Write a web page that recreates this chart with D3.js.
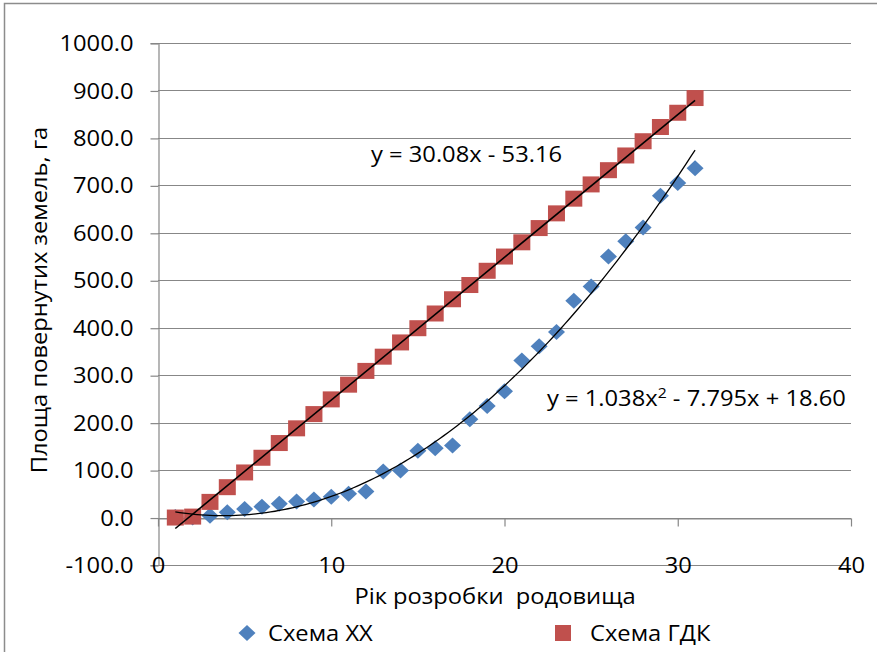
<!DOCTYPE html>
<html lang="uk">
<head>
  <meta charset='utf-8'>
  <title>Площа повернутих земель</title>
  <style>
    body { margin: 0; background: #fff; }
    svg { display: block; background-color: #fff; }
    text { font-family: 'Open Sans', sans-serif; fill: #000; white-space: pre; }
  </style>
</head>
<body>
  <div id="chart"></div>

<script src="https://cdn.jsdelivr.net/npm/d3@7"></script>
<script>

  ////////////////////////////////////////////////// DATA

  var years = [1, 2, 3, 4, 5, 6, 7, 8, 9, 10, 11, 12, 13, 14, 15, 16,
               17, 18, 19, 20, 21, 22, 23, 24, 25, 26, 27, 28, 29, 30, 31];

  // Схема ХХ (blue diamonds)
  var schemeXX = [1, 0, 4, 11, 18, 23, 29, 34, 38, 44, 50, 55, 97, 99, 141, 146,
                  152, 207, 235, 266, 331, 361, 391, 457, 487, 550, 582, 611, 678, 705, 736];

  // Схема ГДК (red squares)
  var schemeGDK = [0, 2, 33, 64, 95, 126, 157, 188, 218, 249, 280, 309, 339, 369, 399, 430,
                   460, 490, 520, 550, 580, 610, 641, 672, 702, 732, 763, 793, 823, 853, 884];

  // trendline coefficients, as printed on the chart
  var linCoef = [30.08, -53.16];          // a*x + b
  var quadCoef = [1.038, -7.795, 18.60];  // a*x^2 + b*x + c

  var xTicks = [0, 10, 20, 30, 40];
  var yTicks = [-100, 0, 100, 200, 300, 400, 500, 600, 700, 800, 900, 1000];

  var seriesNames = ["Схема ХХ", "Схема ГДК"];
  var xTitle = "Рік розробки  родовища";
  var yTitle = "Площа повернутих земель, га";

  ////////////////////////////////////////////////// INIT VARS

  var width = 877, height = 652;
  var plot = {left: 158, right: 851, top: 43, bottom: 565};

  var blue = "#4F81BD", red = "#C0504D", grid = "#878787";
  var fs = 21, sx = 1.13;   // text is a bit stretched horizontally in the reference

  ////////////////////////////////////////////////// SETUP

  var svg = d3.select("#chart").append("svg")
    .attr("width", width)
    .attr("height", height);

  // outer frame (right / bottom edges are cut off in the reference)
  svg.append("rect")
    .attr("x", 4.5).attr("y", 3.5)
    .attr("width", width + 20).attr("height", height + 20)
    .attr("fill", "none").attr("stroke", "#8c8c8c").attr("stroke-width", 1.5);

  var x = d3.scaleLinear().domain([0, 40]).range([plot.left, plot.right]);
  var y = d3.scaleLinear().domain([-100, 1000]).range([plot.bottom, plot.top]);

  // helper: stretched text placed at (px, py)
  function label(px, py, str, anchor, size) {
    return svg.append("g")
      .attr("transform", "translate(" + px + "," + py + ") scale(" + sx + ",1)")
      .append("text")
      .attr("text-anchor", anchor || "start")
      .style("font-size", (size || fs) + "px")
      .text(str);
  }

  // gridlines
  svg.append("g").selectAll("line")
    .data(yTicks)
    .enter().append("line")
    .attr("x1", x(0)).attr("x2", x(40))
    .attr("y1", function(d) { return Math.round(y(d)) + 0.5; })
    .attr("y2", function(d) { return Math.round(y(d)) + 0.5; })
    .attr("stroke", grid).attr("stroke-width", 1.2);

  // y axis
  var yAxis = svg.append("g")
    .attr("transform", "translate(" + (x(0) + 0.5) + ",0)")
    .call(d3.axisLeft(y).tickValues(yTicks).tickSize(8).tickPadding(17)
      .tickFormat(function(d) { return d.toFixed(1); }));
  yAxis.select(".domain").attr("stroke", grid).attr("stroke-width", 1.2);
  yAxis.selectAll(".tick line").attr("stroke", grid).attr("stroke-width", 1.2)
    .attr("transform", "translate(0,0.5)");
  yAxis.selectAll("text")
    .style("font-family", "'Open Sans', sans-serif").style("font-size", fs + "px")
    .attr("x", -25 / sx).attr("dy", "0.36em")
    .attr("transform", "scale(" + sx + ",1)");

  // x axis sits on y = 0, labels drawn on the bottom (-100) line
  var xAxis = svg.append("g")
    .attr("transform", "translate(0," + (Math.round(y(0)) + 0.5) + ")")
    .call(d3.axisBottom(x).tickValues(xTicks).tickSize(8).tickSizeOuter(0)
      .tickFormat(function(d) { return String(d); }));
  xAxis.select(".domain").attr("stroke", grid).attr("stroke-width", 1.2);
  xAxis.selectAll(".tick line").attr("stroke", grid).attr("stroke-width", 1.2);
  xAxis.selectAll("text")
    .style("font-family", "'Open Sans', sans-serif").style("font-size", fs + "px")
    .attr("y", y(-100) - y(0)).attr("dy", "0.34em")
    .attr("transform", "scale(" + sx + ",1)");

  ////////////////////////////////////////////////// MARKERS

  var diamond = "M0,-8 L8.5,0 L0,8 L-8.5,0 Z";

  var xxData = years.map(function(d, i) { return {x: d, y: schemeXX[i]}; });
  var gdkData = years.map(function(d, i) { return {x: d, y: schemeGDK[i]}; });

  svg.append("g").selectAll("path")
    .data(xxData)
    .enter().append("path")
    .attr("d", diamond)
    .attr("transform", function(d) { return "translate(" + x(d.x) + "," + y(d.y) + ")"; })
    .attr("fill", blue);

  svg.append("g").selectAll("rect")
    .data(gdkData)
    .enter().append("rect")
    .attr("x", function(d) { return x(d.x) - 8.5; })
    .attr("y", function(d) { return y(d.y) - 8; })
    .attr("width", 17).attr("height", 16)
    .attr("fill", red);

  ////////////////////////////////////////////////// TRENDLINES

  var line = d3.line()
    .x(function(d) { return x(d[0]); })
    .y(function(d) { return y(d[1]); });

  var x0 = years[0], x1 = years[years.length - 1];

  svg.append("path")
    .datum([[x0, linCoef[0] * x0 + linCoef[1]], [x1, linCoef[0] * x1 + linCoef[1]]])
    .attr("d", line)
    .attr("fill", "none").attr("stroke", "#000").attr("stroke-width", 1.6);

  var quadPts = d3.range(x0, x1 + 0.001, 0.25).map(function(t) {
    return [t, quadCoef[0] * t * t + quadCoef[1] * t + quadCoef[2]];
  });

  svg.append("path")
    .datum(quadPts)
    .attr("d", line)
    .attr("fill", "none").attr("stroke", "#000").attr("stroke-width", 1.3);

  ////////////////////////////////////////////////// LABELS

  label(371, 162, "y = " + linCoef[0].toFixed(2) + "x - " + Math.abs(linCoef[1]).toFixed(2));

  var eq2 = label(547, 406, "");
  eq2.append("tspan").text("y = " + quadCoef[0].toFixed(3) + "x");
  eq2.append("tspan").attr("dy", -8).style("font-size", "14px").text("2");
  eq2.append("tspan").attr("dy", 8)
    .text(" - " + Math.abs(quadCoef[1]).toFixed(3) + "x + " + quadCoef[2].toFixed(2));

  // axis titles
  label(495, 604, xTitle, "middle");

  svg.append("g")
    .attr("transform", "translate(47,300) rotate(-90) scale(" + sx + ",1)")
    .append("text")
    .attr("text-anchor", "middle")
    .style("font-size", fs + "px")
    .text(yTitle);

  ////////////////////////////////////////////////// LEGEND

  svg.append("path")
    .attr("d", diamond)
    .attr("transform", "translate(247,633)")
    .attr("fill", blue);
  label(268, 641, seriesNames[0]);

  svg.append("rect")
    .attr("x", 555).attr("y", 625).attr("width", 16).attr("height", 16)
    .attr("fill", red);
  label(590, 641, seriesNames[1]);

</script>
</body>
</html>
